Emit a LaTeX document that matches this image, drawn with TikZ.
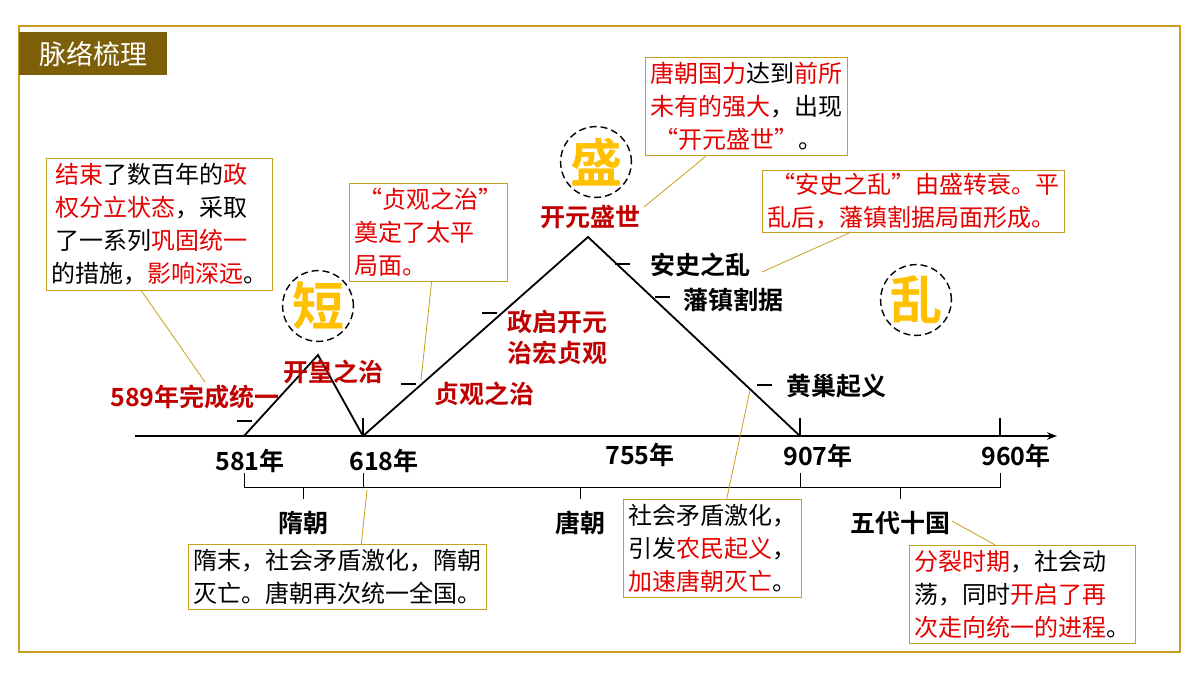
\documentclass[tikz,border=0pt]{standalone}
\usepackage{fontspec}
\setmainfont{Noto Sans CJK SC}
\newfontfamily\cjkb{Noto Sans CJK SC Bold}
\usetikzlibrary{calc,arrows.meta}
\definecolor{gold}{RGB}{200,160,30}
\definecolor{titlebg}{RGB}{125,95,10}
\definecolor{dred}{RGB}{192,0,0}
\definecolor{rd}{RGB}{230,0,0}
\definecolor{yel}{RGB}{255,192,0}
\newcommand{\R}[1]{\textcolor{rd}{#1}}
\tikzset{
  box/.style={draw=gold,line width=0.8pt,fill=white,anchor=north west,align=left,inner sep=5pt,font=\fontsize{24}{33}\selectfont},
  lead/.style={draw=gold,line width=0.8pt},
  ev/.style={font=\cjkb\fontsize{25}{30}\selectfont,text=dred,align=center},
  evk/.style={font=\cjkb\fontsize{25}{30}\selectfont,text=black},
  yr/.style={font=\cjkb\fontsize{25}{30}\selectfont},
  big/.style={circle,draw,dash pattern=on 7pt off 4pt,line width=1.4pt,minimum size=70pt,inner sep=0pt,font=\cjkb\fontsize{52}{52}\selectfont,text=yel},
  ln/.style={line width=1.8pt},
  dsh/.style={line width=1.6pt}
}
\begin{document}
\begin{tikzpicture}[x=1pt,y=-1pt]
\useasboundingbox (0,0) rectangle (1200,675);
\fill[white] (0,0) rectangle (1200,675);
\draw[gold,line width=2.5pt] (19,26) rectangle (1180,652);
\node[fill=titlebg,text=white,minimum width=148pt,minimum height=43pt,anchor=north west,font=\fontsize{27}{30}\selectfont] (title) at (19,32) {脉络梳理};
% axis
\coordinate (a0) at (135,436); \coordinate (a1) at (1057,436);
\draw[ln,-{Stealth[length=10pt]}] (a0) -- (a1);
\foreach \x in {363,800,1000} \draw[ln] (\x,436) -- (\x,418);
% years
\node[yr] (y1) at (250,461) {581年};
\node[yr] (y2) at (384,461) {618年};
\node[yr] (y3) at (640,455) {755年};
\node[yr] (y4) at (818,456) {907年};
\node[yr] (y5) at (1016,456) {960年};
% braces
\foreach \l/\r/\m in {244/363/303,363/800/580,800/1000/900}{
  \draw[line width=1pt] (\l,473) -- (\l,487) -- (\r,487) -- (\r,473);
  \draw[line width=1pt] (\m,487) -- (\m,499);
}
\node[yr] (d1) at (303,523) {隋朝};
\node[yr] (d2) at (580,523) {唐朝};
\node[yr] (d3) at (900,523) {五代十国};
% triangles
\coordinate (s0) at (244,436); \coordinate (s1) at (318,355); \coordinate (s2) at (363,436);
\coordinate (t1) at (588,237); \coordinate (t2) at (800,436);
\draw[ln] (s0) -- (s1) -- (s2) -- (t1) -- (t2);
\foreach \a/\b/\y in {237/252/421,401/416/384,482/497/313,615/630/264,655/670/297,757/772/385}
  \draw[dsh] (\a,\y) -- (\b,\y);
% events
\node[ev] (e1) at (195,397) {589年完成统一};
\node[ev] (e2) at (333,372) {开皇之治};
\node[ev] (e3) at (484,394) {贞观之治};
\node[ev,align=center,font=\cjkb\fontsize{25}{31}\selectfont] (e4) at (557,337) {政启开元\\治宏贞观};
\node[ev] (e5) at (590,217) {开元盛世};
\node[evk] (e6) at (700,265) {安史之乱};
\node[evk] (e7) at (733,300) {藩镇割据};
\node[evk] (e8) at (836,386) {黄巢起义};
% circles
\node[big] (c1) at (318,306) {短};
\node[big] (c2) at (596,162) {盛};
\node[big] (c3) at (916,300) {乱};
% boxes
\node[box] (b1) at (46,158) {\,\R{结束}了数百年的\R{政}\\\,\R{权分立状态}，采取\\\,了一系列\R{巩固统一}\\的措施，\R{影响深远}。};
\node[box] (b2) at (349,183) {\R{\,“贞观之治”}\\\R{奠定了太平}\\\R{局面。}\hphantom{奠定}};
\node[box] (b3) at (645,57) {\R{唐朝国力}达到\R{前所}\\\R{未有的强大}，出现\\\,\R{“开元盛世”}。};
\node[box,inner ysep=3pt] (b4) at (762,170) {\R{\,“安史之乱”由盛转衰。平}\\\R{乱后，藩镇割据局面形成。}};
\node[box] (b5) at (188,544) {隋末，社会矛盾激化，隋朝\\灭亡。唐朝再次统一全国。};
\node[box] (b6) at (623,499) {社会矛盾激化，\\引发\R{农民起义}，\\\R{加速唐朝灭亡}。};
\node[box] (b7) at (909,545) {\R{分裂时期}，社会动\\荡，同时\R{开启了再}\\\R{次走向统一的进程}。};
% leaders
\coordinate (p1) at (205,382);
\coordinate (p2) at (421,380);
\coordinate (p3) at (644,207);
\coordinate (p4) at (762,272);
\coordinate (p5) at (367,490);
\coordinate (p6) at (750,390);
\coordinate (p7) at (952,521);
\draw[lead] ($(b1.south west)!0.42!(b1.south east)$) -- (p1);
\draw[lead] ($(b2.south west)!0.52!(b2.south east)$) -- (p2);
\draw[lead] ($(b3.south west)!0.3!(b3.south east)$) -- (p3);
\draw[lead] ($(b4.south west)!0.29!(b4.south east)$) -- (p4);
\draw[lead] ($(b5.north west)!0.58!(b5.north east)$) -- (p5);
\draw[lead] ($(b6.north west)!0.58!(b6.north east)$) -- (p6);
\draw[lead] ($(b7.north west)!0.38!(b7.north east)$) -- (p7);
\end{tikzpicture}
\end{document}
